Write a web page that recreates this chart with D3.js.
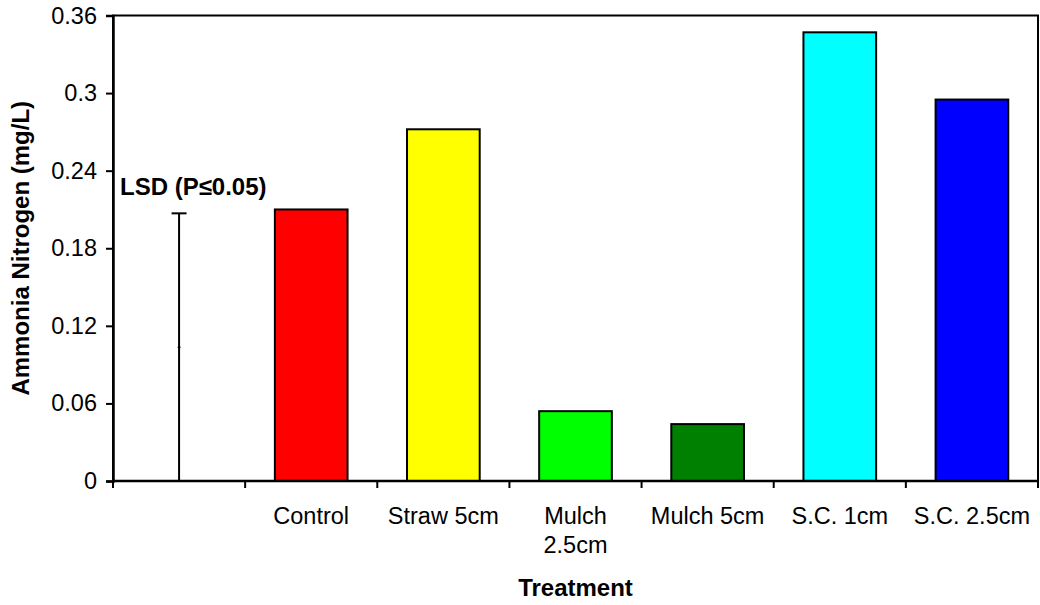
<!DOCTYPE html>
<html><head><meta charset="utf-8">
<script src="https://cdn.jsdelivr.net/npm/d3@7"></script>
<style>
html,body{margin:0;padding:0;background:#fff;}
text{font-family:"Liberation Sans",Arial,sans-serif;fill:#000;}
</style></head>
<body><svg id="chart" width="1040" height="605"></svg>
<script>
const categories = ["", "Control", "Straw 5cm", "Mulch 2.5cm", "Mulch 5cm", "S.C. 1cm", "S.C. 2.5cm"];
const categoryLines = [[""], ["Control"], ["Straw 5cm"], ["Mulch", "2.5cm"], ["Mulch 5cm"], ["S.C. 1cm"], ["S.C. 2.5cm"]];
const values = [null, 0.210, 0.272, 0.054, 0.044, 0.347, 0.295];
const colors = [null, "#FF0000", "#FFFF00", "#00FF00", "#008000", "#00FFFF", "#0000FF"];
const lsdValue = 0.207;
const lsdLabel = "LSD (P\u22640.05)";
const yTicks = [0, 0.06, 0.12, 0.18, 0.24, 0.3, 0.36];
const yTickLabels = ["0", "0.06", "0.12", "0.18", "0.24", "0.3", "0.36"];
const yTitle = "Ammonia Nitrogen (mg/L)";
const xTitle = "Treatment";

const svg = d3.select("#chart");
const L = 113, T = 15.5, R = 1038, B = 481;
const FS = 23.5, FSB = 24;

const x = d3.scaleBand().domain(categories).range([L, R]).paddingInner(0.45).paddingOuter(0.225);
const y = d3.scaleLinear().domain([0, 0.36]).range([B, T]);

// bars
const barData = categories.map((c, i) => ({c, v: values[i], col: colors[i]})).filter(d => d.v != null);
svg.append("g").selectAll("rect").data(barData).join("rect")
  .attr("x", d => x(d.c)).attr("width", x.bandwidth())
  .attr("y", d => y(d.v)).attr("height", d => y(0) - y(d.v))
  .attr("fill", d => d.col).attr("stroke", "#000").attr("stroke-width", 2);

// LSD error bar
const cx = x(categories[0]) + x.bandwidth() / 2;
const mid = lsdValue / 2;
const eb = svg.append("g").attr("stroke", "#000").attr("stroke-width", 2);
eb.append("line").attr("x1", cx).attr("x2", cx).attr("y1", y(mid + lsdValue / 2)).attr("y2", y(mid - lsdValue / 2));
[mid + lsdValue / 2, mid - lsdValue / 2].forEach(v => {
  eb.append("line").attr("x1", cx - 7.5).attr("x2", cx + 7.5).attr("y1", y(v)).attr("y2", y(v));
});
svg.append("circle").attr("cx", cx).attr("cy", y(mid)).attr("r", 1.3).attr("fill", "#000");
svg.append("text").attr("x", L + 7).attr("y", y(lsdValue) - 18)
  .attr("font-size", FSB).attr("font-weight", "bold").text(lsdLabel);

// plot border
svg.append("rect").attr("x", L).attr("y", T).attr("width", R - L).attr("height", B - T)
  .attr("fill", "none").attr("stroke", "#000").attr("stroke-width", 2);

// y axis
const yAxis = d3.axisLeft(y).tickValues(yTicks).tickSize(7).tickPadding(9)
  .tickFormat((d, i) => yTickLabels[i]);
const gy = svg.append("g").attr("transform", `translate(${L},0)`).call(yAxis);
gy.select(".domain").attr("stroke-width", 2.5);
gy.selectAll(".tick line").attr("stroke-width", 2);
gy.selectAll(".tick text").attr("font-size", FS).attr("font-family", "Liberation Sans, Arial, sans-serif");

// x axis ticks at category boundaries
const bounds = d3.range(categories.length + 1).map(i => L + i * (R - L) / categories.length);
const gx = svg.append("g");
gx.append("line").attr("x1", L).attr("x2", R).attr("y1", B).attr("y2", B).attr("stroke", "#000").attr("stroke-width", 2.5);
gx.selectAll("line.tk").data(bounds).join("line").attr("class", "tk")
  .attr("x1", d => d).attr("x2", d => d).attr("y1", B).attr("y2", B + 7)
  .attr("stroke", "#000").attr("stroke-width", 2);

// category labels
const lab = svg.append("g").attr("font-size", FS).attr("text-anchor", "middle");
categories.forEach((c, i) => {
  const t = lab.append("text").attr("x", x(c) + x.bandwidth() / 2).attr("y", 523.5);
  categoryLines[i].forEach((ln, j) => {
    t.append("tspan").attr("x", x(c) + x.bandwidth() / 2).attr("dy", j === 0 ? 0 : 29).text(ln);
  });
});

// titles
svg.append("text").attr("x", (L + R) / 2).attr("y", 596).attr("text-anchor", "middle")
  .attr("font-size", FSB).attr("font-weight", "bold").text(xTitle);
svg.append("text").attr("transform", `translate(28.5,${(T + B) / 2}) rotate(-90)`)
  .attr("text-anchor", "middle").attr("font-size", FSB).attr("font-weight", "bold").text(yTitle);
</script></body></html>
